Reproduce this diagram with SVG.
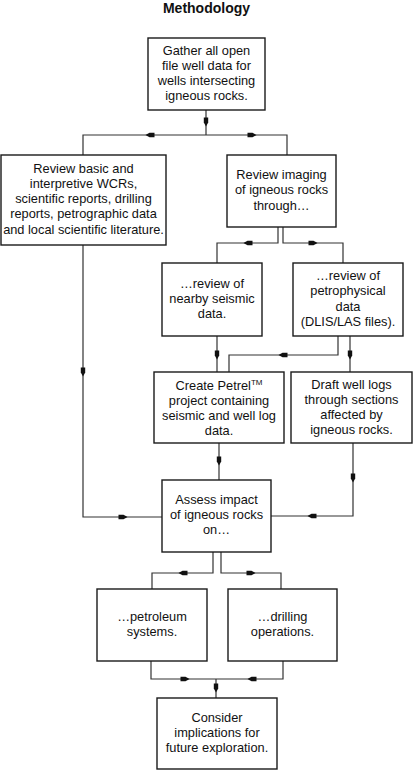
<svg xmlns="http://www.w3.org/2000/svg" xmlns:xlink="http://www.w3.org/1999/xlink" width="413" height="771" viewBox="0 0 413 771">
<style>
.box{fill:#fff;stroke:#1a1a1a;stroke-width:1.4}
.t{font-family:"Liberation Sans",Arial,sans-serif;font-size:12.8px;fill:#111;text-anchor:middle}
.title{font-family:"Liberation Sans",Arial,sans-serif;font-size:14px;font-weight:bold;fill:#111;text-anchor:middle}
.ln{fill:none;stroke:#333;stroke-width:1.2}
.ah{fill:#111}
</style>
<defs>
<path id="ar" d="M-4.5,-2.2 H0.5 L4.5,0 L0.5,2.2 H-4.5 Z"/>
</defs>
<rect width="413" height="771" fill="#fff"/>
<text class="title" x="206.5" y="13">Methodology</text>

<g id="connectors">
<path class="ln" d="M206,110 V135"/>
<path class="ln" d="M83,155 V135 H287 V155"/>
<path class="ln" d="M278,227 V243 H217 V263"/>
<path class="ln" d="M283,227 V243 H343 V263"/>
<path class="ln" d="M217,336 V372"/>
<path class="ln" d="M338,336 V355 H229 V372"/>
<path class="ln" d="M350,336 V372"/>
<path class="ln" d="M83,245 V517 H162"/>
<path class="ln" d="M219,443 V480"/>
<path class="ln" d="M353,443 V516 H271"/>
<path class="ln" d="M213,552 V573 H152 V589"/>
<path class="ln" d="M221,552 V573 H281 V589"/>
<path class="ln" d="M151,661 V679 H283 V661"/>
<path class="ln" d="M216,679 V698"/>
<g class="ah">
<use xlink:href="#ar" transform="translate(206,122) rotate(90)"/>
<use xlink:href="#ar" transform="translate(150,135) rotate(180)"/>
<use xlink:href="#ar" transform="translate(252,135)"/>
<use xlink:href="#ar" transform="translate(248,243) rotate(180)"/>
<use xlink:href="#ar" transform="translate(313,243)"/>
<use xlink:href="#ar" transform="translate(217,355) rotate(90)"/>
<use xlink:href="#ar" transform="translate(283,355) rotate(180)"/>
<use xlink:href="#ar" transform="translate(350,355) rotate(90)"/>
<use xlink:href="#ar" transform="translate(83,372) rotate(90)"/>
<use xlink:href="#ar" transform="translate(123,517)"/>
<use xlink:href="#ar" transform="translate(219,461) rotate(90)"/>
<use xlink:href="#ar" transform="translate(353,478) rotate(90)"/>
<use xlink:href="#ar" transform="translate(312,516) rotate(180)"/>
<use xlink:href="#ar" transform="translate(183,573) rotate(180)"/>
<use xlink:href="#ar" transform="translate(251,573)"/>
<use xlink:href="#ar" transform="translate(185,679)"/>
<use xlink:href="#ar" transform="translate(252,679) rotate(180)"/>
<use xlink:href="#ar" transform="translate(216,688) rotate(90)"/>
</g>
</g>

<g id="gather">
<rect class="box" x="148" y="38" width="117" height="72"/>
<text class="t" x="206.5" y="54.5">Gather all open</text>
<text class="t" x="206.5" y="69.5">file well data for</text>
<text class="t" x="206.5" y="84.5">wells intersecting</text>
<text class="t" x="206.5" y="99.5">igneous rocks.</text>
</g>
<g id="review-basic">
<rect class="box" x="1" y="155" width="165" height="90"/>
<text class="t" x="83.5" y="172.5">Review basic and</text>
<text class="t" x="83.5" y="187.7">interpretive WCRs,</text>
<text class="t" x="83.5" y="203">scientific reports, drilling</text>
<text class="t" x="83.5" y="218.2">reports, petrographic data</text>
<text class="t" x="83.5" y="233.5">and local scientific literature.</text>
</g>
<g id="review-imaging">
<rect class="box" x="227" y="155" width="109" height="72"/>
<text class="t" x="281.5" y="178.5">Review imaging</text>
<text class="t" x="281.5" y="194">of igneous rocks</text>
<text class="t" x="281.5" y="209.5">through…</text>
</g>
<g id="seismic">
<rect class="box" x="162" y="263" width="100" height="73"/>
<text class="t" x="212" y="287.5">…review of</text>
<text class="t" x="212" y="302.5">nearby seismic</text>
<text class="t" x="212" y="317.5">data.</text>
</g>
<g id="petrophysical">
<rect class="box" x="293" y="263" width="110" height="73"/>
<text class="t" x="348" y="279.5">…review of</text>
<text class="t" x="348" y="295">petrophysical</text>
<text class="t" x="348" y="310.5">data</text>
<text class="t" x="348" y="325.5">(DLIS/LAS files).</text>
</g>
<g id="petrel">
<rect class="box" x="154" y="372" width="130" height="71"/>
<text class="t" x="219" y="389.5">Create Petrel<tspan font-size="8" dy="-5">TM</tspan></text>
<text class="t" x="219" y="404.5">project containing</text>
<text class="t" x="219" y="419.5">seismic and well log</text>
<text class="t" x="219" y="434.5">data.</text>
</g>
<g id="draft">
<rect class="box" x="291" y="372" width="121" height="71"/>
<text class="t" x="351.5" y="388.5">Draft well logs</text>
<text class="t" x="351.5" y="403.5">through sections</text>
<text class="t" x="351.5" y="418.5">affected by</text>
<text class="t" x="351.5" y="433.5">igneous rocks.</text>
</g>
<g id="assess">
<rect class="box" x="162" y="480" width="109" height="72"/>
<text class="t" x="216.5" y="503.5">Assess impact</text>
<text class="t" x="216.5" y="518.5">of igneous rocks</text>
<text class="t" x="216.5" y="533.5">on…</text>
</g>
<g id="petroleum">
<rect class="box" x="97" y="589" width="110" height="72"/>
<text class="t" x="152" y="620.5">…petroleum</text>
<text class="t" x="152" y="635.5">systems.</text>
</g>
<g id="drilling">
<rect class="box" x="228" y="589" width="109" height="72"/>
<text class="t" x="282.5" y="620.5">…drilling</text>
<text class="t" x="282.5" y="635.5">operations.</text>
</g>
<g id="consider">
<rect class="box" x="157" y="698" width="120" height="71"/>
<text class="t" x="217" y="721.5">Consider</text>
<text class="t" x="217" y="736.5">implications for</text>
<text class="t" x="217" y="751.5">future exploration.</text>
</g>
</svg>
